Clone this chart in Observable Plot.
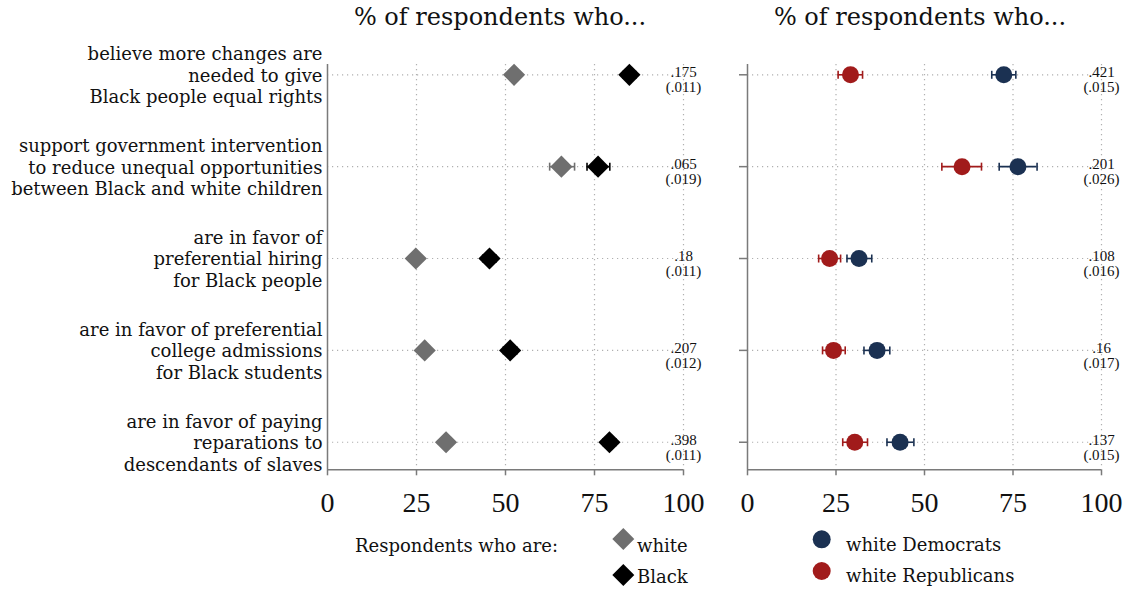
<!DOCTYPE html>
<html><head><meta charset="utf-8">
<script src="https://cdn.jsdelivr.net/npm/d3@7"></script>
<script src="https://cdn.jsdelivr.net/npm/@observablehq/plot@0.6"></script>
<style>
body{margin:0;background:#fff;}
#wrap{position:relative;width:1129px;height:592px;overflow:hidden;background:#fff}
#wrap svg{position:absolute;overflow:visible}
</style></head><body><div id="wrap"></div>
<script>
// ---------- data ----------
const panelTitle = "% of respondents who...";
const questions = [
  "believe more changes are\nneeded to give\nBlack people equal rights",
  "support government intervention\nto reduce unequal opportunities\nbetween Black and white children",
  "are in favor of\npreferential hiring\nfor Black people",
  "are in favor of preferential\ncollege admissions\nfor Black students",
  "are in favor of paying\nreparations to\ndescendants of slaves"
];
const rowIds = [1, 2, 3, 4, 5];
const xTicks = [0, 25, 50, 75, 100];

const leftGroups = ["white", "Black"];
const whiteVals = [52.4, 65.7, 24.8, 27.3, 33.3];
const whiteLo   = [51.0, 62.4, 23.4, 25.8, 31.9];
const whiteHi   = [53.8, 69.4, 26.2, 28.8, 34.7];
const blackVals = [84.8, 76.0, 45.5, 51.3, 79.2];
const blackLo   = [83.0, 72.9, 43.6, 49.4, 77.4];
const blackHi   = [86.6, 79.3, 47.4, 53.2, 81.0];
const leftDiff = [".175", ".065", ".18", ".207", ".398"];
const leftSE   = ["(.011)", "(.019)", "(.011)", "(.012)", "(.011)"];

const rightGroups = ["white Democrats", "white Republicans"];
const demVals = [72.4, 76.4, 31.5, 36.6, 43.1];
const demLo   = [69.0, 71.1, 28.1, 32.9, 39.4];
const demHi   = [75.8, 81.8, 35.1, 40.2, 47.0];
const repVals = [29.1, 60.6, 23.2, 24.3, 30.3];
const repLo   = [25.6, 54.9, 20.1, 21.2, 26.9];
const repHi   = [32.5, 66.1, 26.3, 27.6, 33.9];
const rightDiff = [".421", ".201", ".108", ".16", ".137"];
const rightSE   = ["(.015)", "(.026)", "(.016)", "(.017)", "(.015)"];

const legendLeftTitle = "Respondents who are:";

// ---------- styling ----------
const fontWords = "'DejaVu Serif', serif";
const fontNums = "'Liberation Serif', serif";
const leftColors = ["#6f6f6f", "#000000"];
const rightColors = ["#1b3152", "#a11b1b"];
const axisColor = "#7a7a7a";
const gridColor = "#b0b0b0";
const yDomain = [0.888, 5.3];

const capSymbol = {
  draw(ctx, size) { const h = Math.sqrt(size / Math.PI); ctx.moveTo(0, -h); ctx.lineTo(0, h); }
};

function rowsOf(group, vals, lo, hi) {
  return rowIds.map((r, i) => ({row: r, group, v: vals[i], lo: lo[i], hi: hi[i]}));
}
const leftData = [
  ...rowsOf(leftGroups[0], whiteVals, whiteLo, whiteHi),
  ...rowsOf(leftGroups[1], blackVals, blackLo, blackHi)
];
const rightData = [
  ...rowsOf(rightGroups[1], repVals, repLo, repHi),
  ...rowsOf(rightGroups[0], demVals, demLo, demHi)
];
const leftAnn = rowIds.map((r, i) => ({row: r, note: leftDiff[i] + "\n" + leftSE[i], label: questions[i]}));
const rightAnn = rowIds.map((r, i) => ({row: r, note: rightDiff[i] + "\n" + rightSE[i]}));

function panel({width, marginLeft, marginRight, data, groups, colors, symbol, r, ann, left}) {
  const byGroup = {value: "group", scale: "color"};
  const marks = [
    Plot.ruleX(xTicks.slice(1), {stroke: gridColor, strokeWidth: 1.2, strokeDasharray: "1.2,3.8"}),
    Plot.ruleY(rowIds, {stroke: gridColor, strokeWidth: 1.2, strokeDasharray: "1.2,3.8"}),
    Plot.ruleX([xTicks[0]], {stroke: axisColor, strokeWidth: 1.5}),
    Plot.ruleY([yDomain[1]], {stroke: axisColor, strokeWidth: 1.5}),
    Plot.axisX({ticks: xTicks, tickSize: 6, tickPadding: 16, fontSize: 28, fontFamily: fontNums,
      stroke: axisColor, strokeWidth: 1.5, fill: "#111", label: null}),
    Plot.ruleY(data, {y: "row", x1: "lo", x2: "hi", stroke: byGroup, strokeWidth: 1.6}),
    Plot.dot(data, {x: "lo", y: "row", symbol: capSymbol, r: 4, stroke: byGroup, fill: "none", strokeWidth: 1.6}),
    Plot.dot(data, {x: "hi", y: "row", symbol: capSymbol, r: 4, stroke: byGroup, fill: "none", strokeWidth: 1.6}),
    Plot.dot(data, {x: "v", y: "row", symbol, r, fill: byGroup, stroke: null}),
    Plot.text(ann, {y: "row", text: "note", frameAnchor: "right", textAnchor: "middle", dy: 5,
      lineHeight: 1.0, fontSize: 15, fontFamily: fontNums, fill: "#111"})
  ];
  if (left) {
    marks.push(Plot.text(ann, {y: "row", text: "label", frameAnchor: "left", textAnchor: "end", dx: -5,
      fontSize: 18, lineHeight: 1.19, fontFamily: fontWords, fill: "#111"}));
  } else {
    marks.push(Plot.axisY({ticks: rowIds, tickSize: 8, tickFormat: () => "", stroke: axisColor,
      strokeWidth: 1.5, label: null}));
  }
  return Plot.plot({
    width, height: 480, marginLeft, marginRight, marginTop: 24, marginBottom: 50.7,
    x: {domain: [xTicks[0], xTicks[xTicks.length - 1]]},
    y: {domain: yDomain, reverse: true, axis: left ? null : undefined},
    color: {type: "ordinal", domain: groups, range: colors},
    style: {fontFamily: fontWords, color: "#111", background: "transparent", overflow: "visible"},
    marks
  });
}

const wrap = document.getElementById("wrap");
const p1 = panel({width: 720, marginLeft: 327, marginRight: 37, data: leftData, groups: leftGroups,
  colors: leftColors, symbol: "diamond2", r: 10, ann: leftAnn, left: true});
p1.style.left = "0px"; p1.style.top = "40px";
wrap.appendChild(p1);
const p2 = panel({width: 409, marginLeft: 27, marginRight: 28, data: rightData, groups: rightGroups,
  colors: rightColors, symbol: "circle", r: 8.5, ann: rightAnn, left: false});
p2.style.left = "720px"; p2.style.top = "40px";
wrap.appendChild(p2);

// ---------- titles and legends ----------
const ov = d3.create("svg").attr("width", 1129).attr("height", 592)
  .style("left", "0px").style("top", "0px").attr("font-family", fontWords).attr("fill", "#111");
ov.append("text").attr("x", 500).attr("y", 25).attr("text-anchor", "middle").attr("font-size", 24).text(panelTitle);
ov.append("text").attr("x", 920).attr("y", 25).attr("text-anchor", "middle").attr("font-size", 24).text(panelTitle);

ov.append("text").attr("x", 355).attr("y", 551.5).attr("font-size", 18).text(legendLeftTitle);
const diamond = d3.symbol(d3.symbolDiamond2, 308)();
const legL = [[539, 551.5], [575, 583]];
leftGroups.forEach((g, i) => {
  ov.append("path").attr("d", diamond).attr("transform", `translate(623.3,${legL[i][0]})`).attr("fill", leftColors[i]);
  ov.append("text").attr("x", 637).attr("y", legL[i][1]).attr("font-size", 18).text(g);
});
const legR = [[539.3, 551], [571, 581.5]];
rightGroups.forEach((g, i) => {
  ov.append("circle").attr("cx", 821.7).attr("cy", legR[i][0]).attr("r", 9).attr("fill", rightColors[i]);
  ov.append("text").attr("x", 846).attr("y", legR[i][1]).attr("font-size", 18).text(g);
});
wrap.appendChild(ov.node());
</script></body></html>
